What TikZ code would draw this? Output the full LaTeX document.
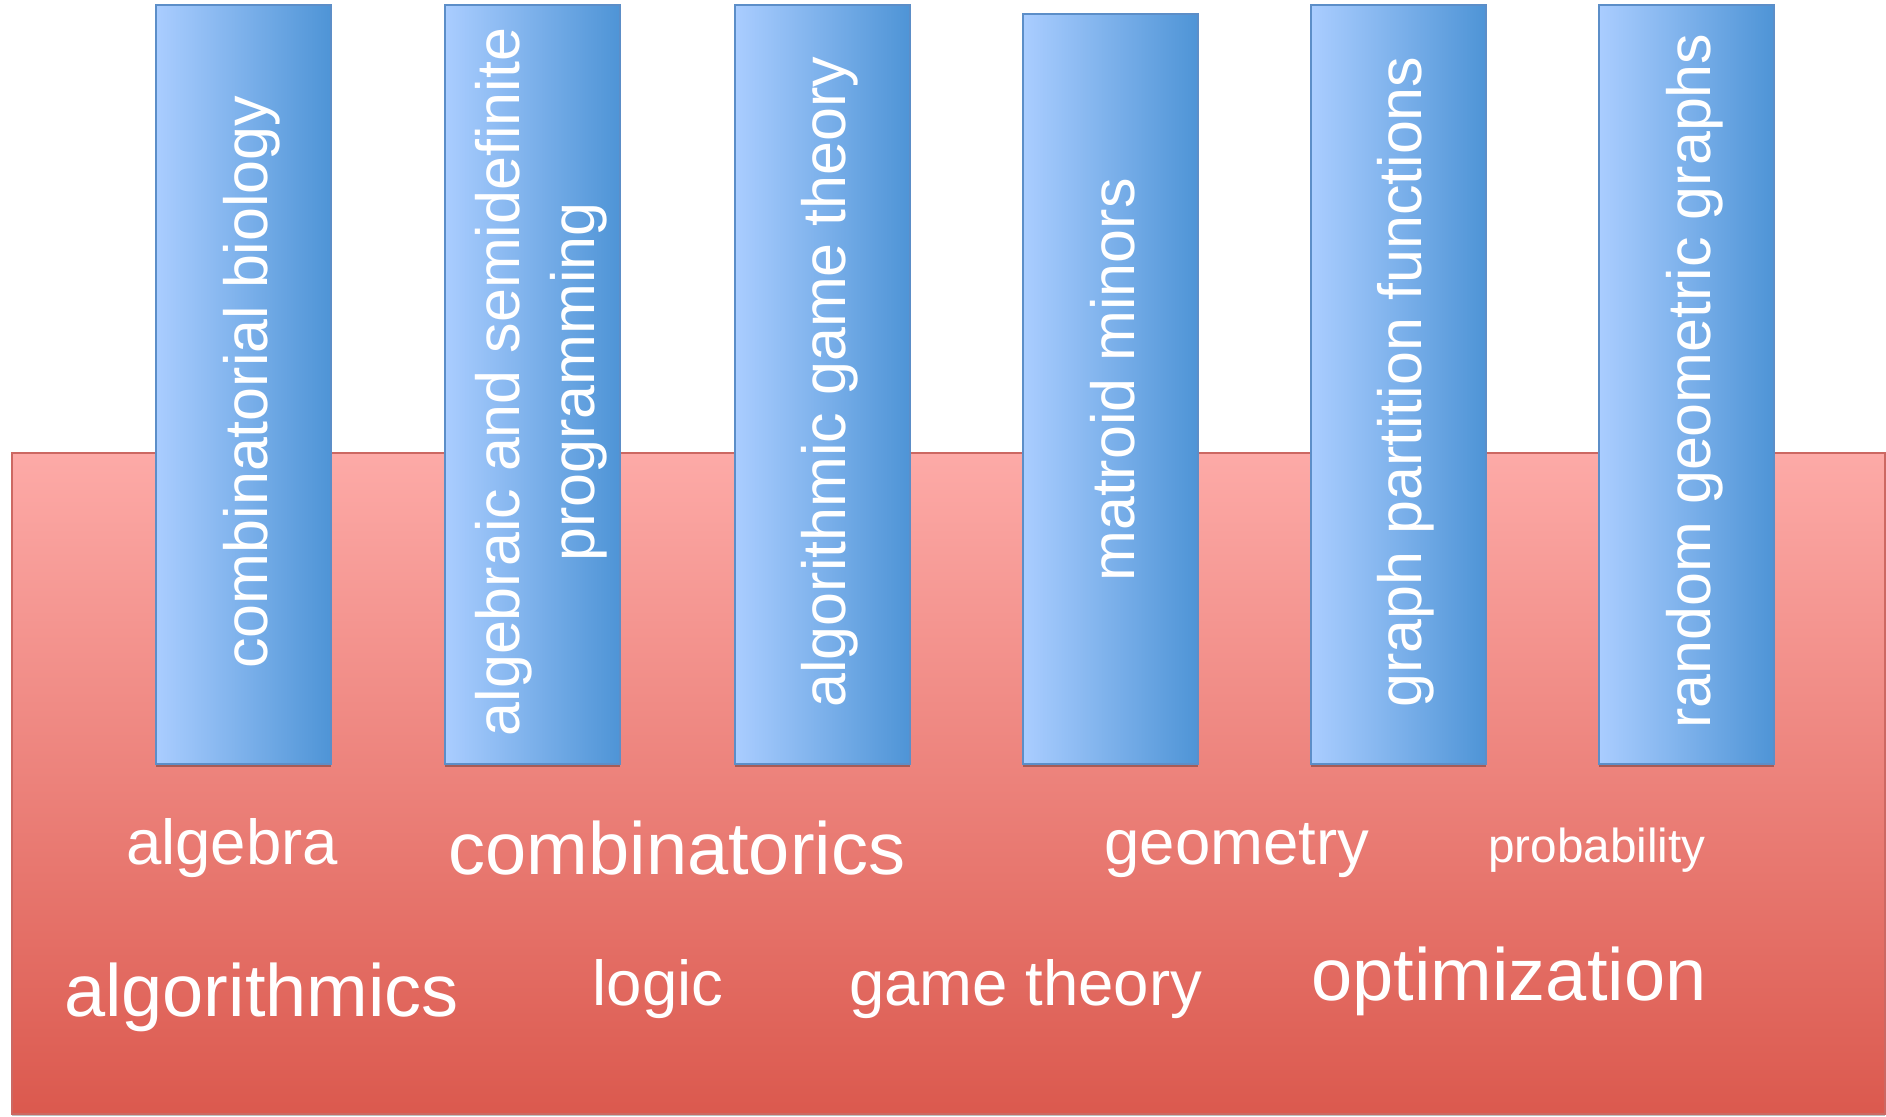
\documentclass[tikz,border=0pt]{standalone}
\usepackage{fontspec}
\setmainfont{Liberation Sans}
\usetikzlibrary{shadows}
\definecolor{redtop}{RGB}{253,170,167}
\definecolor{redbot}{RGB}{219,89,78}
\definecolor{redline}{RGB}{204,104,98}
\definecolor{blueL}{RGB}{170,205,255}
\definecolor{blueR}{RGB}{78,148,214}
\definecolor{blueline}{RGB}{92,142,200}
\begin{document}
\begin{tikzpicture}[x=1pt,y=-1pt,
  groundbox/.style={draw=redline, line width=2pt, top color=redtop, bottom color=redbot,
    inner sep=0pt, anchor=north west,
    drop shadow={shadow xshift=0pt, shadow yshift=-2pt, opacity=0.25, fill=black}},
  pillar/.style={draw=blueline, line width=2pt, left color=blueL, right color=blueR,
    inner sep=0pt, anchor=north west, minimum width=175pt,
    drop shadow={shadow xshift=0pt, shadow yshift=-3pt, opacity=0.3, fill=black}},
  vtext/.style={rotate=90, text=white, inner sep=0pt, anchor=base,
    font=\fontsize{61}{75}\selectfont},
  htext/.style={text=white, inner sep=0pt, anchor=base},
  hmid/.style={htext, font=\fontsize{63.5}{76}\selectfont},
  hbig/.style={htext, font=\fontsize{74}{88}\selectfont},
  hsmall/.style={htext, font=\fontsize{47.7}{57}\selectfont}]
\useasboundingbox (0,0) rectangle (1886,1116);
\fill[white] (0,0) rectangle (1886,1116);

\node[groundbox, minimum width=1873pt, minimum height=661pt] (ground) at (11,452) {};

\node[pillar, minimum height=759pt] (p1) at (155,4) {};
\node[pillar, minimum height=759pt] (p2) at (444,4) {};
\node[pillar, minimum height=759pt] (p3) at (734,4) {};
\node[pillar, minimum height=750pt] (p4) at (1022,13) {};
\node[pillar, minimum height=759pt] (p5) at (1310,4) {};
\node[pillar, minimum height=759pt] (p6) at (1598,4) {};

\node[vtext] (t1) at (267,382) {combinatorial biology};
\node[vtext, anchor=center, align=center] (t2) at (541.7,382) {algebraic and semidefinite\\programming};
\node[vtext] (t3) at (845,382) {algorithmic game theory};
\node[vtext] (t4) at (1134,380) {matroid minors};
\node[vtext] (t5) at (1421,382) {graph partition functions};
\node[vtext] (t6) at (1710,381) {random geometric graphs};

\node[hmid] (algebra) at (232,864) {algebra};
\node[hbig] (comb) at (677,874) {combinatorics};
\node[hmid] (geom) at (1237,864) {geometry};
\node[hsmall] (prob) at (1597,862) {probability};
\node[hbig] (algo) at (261.5,1016) {algorithmics};
\node[hmid] (logic) at (658,1005.5) {logic};
\node[hmid] (game) at (1025.7,1005.5) {game theory};
\node[hbig] (opt) at (1509,1000.5) {optimization};
\end{tikzpicture}
\end{document}
